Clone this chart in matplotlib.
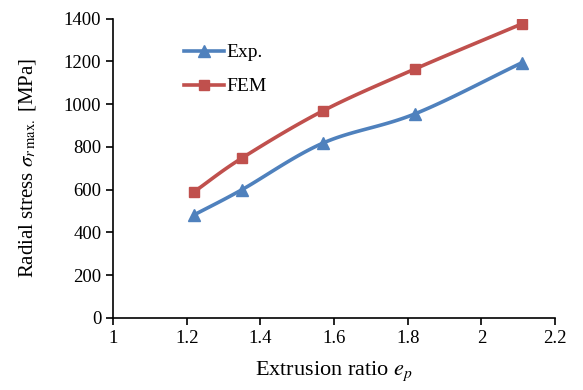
import numpy as np
import matplotlib.pyplot as plt

plt.rcParams['font.family'] = ['Liberation Serif', 'DejaVu Serif']
plt.rcParams['mathtext.fontset'] = 'stix'

ratio = [1.22, 1.35, 1.57, 1.82, 2.11]
exp_stress = [482, 600, 818, 955, 1194]
fem_stress = [590, 748, 969, 1165, 1376]


def smooth(x, y, n=30):
    # catmull-rom, roughly what excel does with "smoothed line"
    x = np.asarray(x, float)
    y = np.asarray(y, float)
    px = np.concatenate([[2 * x[0] - x[1]], x, [2 * x[-1] - x[-2]]])
    py = np.concatenate([[2 * y[0] - y[1]], y, [2 * y[-1] - y[-2]]])
    xs, ys = [], []
    t = np.linspace(0, 1, n)
    for i in range(1, len(px) - 2):
        for p, out in ((px, xs), (py, ys)):
            p0, p1, p2, p3 = p[i - 1], p[i], p[i + 1], p[i + 2]
            out.extend(0.5 * (2 * p1 + (-p0 + p2) * t
                              + (2 * p0 - 5 * p1 + 4 * p2 - p3) * t ** 2
                              + (-p0 + 3 * p1 - 3 * p2 + p3) * t ** 3))
    return np.array(xs), np.array(ys)


fig = plt.figure(figsize=(5.83, 3.9), dpi=100)
ax = fig.add_axes([0.194, 0.185, 0.758, 0.767])

blue = '#4F81BD'
red = '#C0504D'

sx, sy = smooth(ratio, exp_stress)
ax.plot(sx, sy, color=blue, lw=2.6, solid_capstyle='round')
ax.plot(ratio, exp_stress, ls='none', marker='^', ms=8, color=blue)
fx, fy = smooth(ratio, fem_stress)
ax.plot(fx, fy, color=red, lw=2.6, solid_capstyle='round')
ax.plot(ratio, fem_stress, ls='none', marker='s', ms=7, color=red)

# legend proxies
h1, = ax.plot([], [], color=blue, lw=2.6, marker='^', ms=8)
h2, = ax.plot([], [], color=red, lw=2.6, marker='s', ms=7)
ax.legend([h1, h2], ['Exp.', 'FEM'], loc='upper left', bbox_to_anchor=(0.12, 0.975),
          frameon=False, fontsize=14, handlelength=2.1, handletextpad=0.1,
          labelspacing=0.85)

ax.set_xlim(1, 2.2)
ax.set_ylim(0, 1400)
ax.set_xticks([1, 1.2, 1.4, 1.6, 1.8, 2, 2.2])
ax.set_xticklabels(['1', '1.2', '1.4', '1.6', '1.8', '2', '2.2'])
ax.set_yticks(range(0, 1401, 200))
ax.tick_params(labelsize=13.5, direction='out', length=5, width=1.2, color='black')
ax.spines['top'].set_visible(False)
ax.spines['right'].set_visible(False)
ax.spines['left'].set_linewidth(1.2)
ax.spines['bottom'].set_linewidth(1.2)

ax.set_xlabel('Extrusion ratio $e_p$', fontsize=16)
ax.set_ylabel(r'Radial stress $\sigma_{r\,\mathrm{max.}}$ [MPa]', fontsize=15)
ax.xaxis.set_label_coords(0.5, -0.14)
ax.yaxis.set_label_coords(-0.17, 0.5)

fig.savefig('out.png', dpi=100)
